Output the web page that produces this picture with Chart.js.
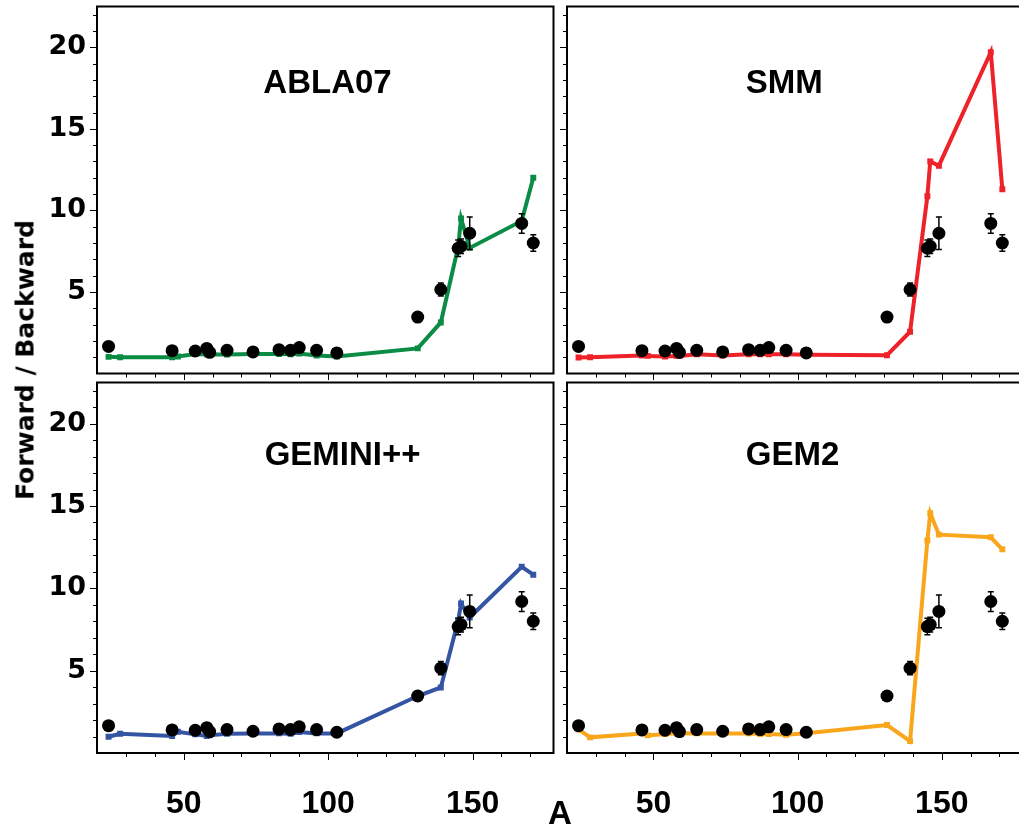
<!DOCTYPE html>
<html>
<head>
<meta charset="utf-8">
<script src="https://cdn.jsdelivr.net/npm/chart.js@4.4.0/dist/chart.umd.min.js"></script>
<style>
  html, body { margin: 0; padding: 0; background: #fff; }
  #wrap { position: relative; width: 1019px; height: 827px; overflow: hidden; background: #fff; }
  canvas { position: absolute; }
  .axis-title { position: absolute; font-weight: bold; color: #000; white-space: nowrap; line-height: 1; }
  #ytitle { left: 25px; top: 360px; font-family: "DejaVu Sans", sans-serif; font-size: 25px;
            transform: translate(-50%, -50%) rotate(-90deg); }
  #xtitle { left: 560px; top: 812px; font-family: "Liberation Sans Narrow", "Liberation Sans", Arial, sans-serif;
            font-size: 33px; transform: translate(-50%, -50%); }
</style>
</head>
<body>
<div id="wrap">
  <canvas id="tl" width="560" height="380" style="left:0;top:0"></canvas>
  <canvas id="tr" width="470" height="380" style="left:559px;top:0"></canvas>
  <canvas id="bl" width="560" height="451" style="left:0;top:376px"></canvas>
  <canvas id="br" width="470" height="451" style="left:559px;top:376px"></canvas>
  <div class="axis-title" id="ytitle">Forward / Backward</div>
  <div class="axis-title" id="xtitle">A</div>
</div>
<script>
// measured forward/backward ratios (black points)
const expA   = [24, 46, 54, 58, 59, 65, 74, 83, 87, 90, 96, 103, 131, 139, 145, 146, 149, 167, 171];
const expVal = [1.66, 1.40, 1.38, 1.54, 1.30, 1.42, 1.32, 1.46, 1.42, 1.59, 1.42, 1.26, 3.46, 5.15, 7.68, 7.80, 8.60, 9.20, 8.00];
const expErr = [0, 0, 0, 0, 0, 0, 0, 0, 0, 0, 0, 0, 0, 0.40, 0.50, 0.45, 1.00, 0.60, 0.50];

// model calculations
const modelA     = [24, 28, 46, 48, 54, 58, 59, 65, 74, 83, 87, 90, 96, 103, 131, 139, 145, 146, 149, 167, 171];
const ablaVals   = [1.02, 1.00, 1.00, 1.04, 1.20, 1.18, 1.16, 1.16, 1.19, 1.19, 1.18, 1.22, 1.10, 1.04, 1.54, 3.13, 7.76, 9.50, 7.70, 9.35, 12.0];
const smmVals    = [0.98, 1.00, 1.10, 1.08, 1.04, 1.08, 1.08, 1.18, 1.10, 1.18, 1.18, 1.18, 1.18, 1.15, 1.12, 2.56, 10.87, 13.0, 12.74, 19.7, 11.3];
const geminiVals = [0.99, 1.17, 1.03, 1.29, 1.13, 1.03, 1.07, 1.17, 1.19, 1.19, 1.17, 1.27, 1.19, 1.19, 3.46, 3.98, 8.03, 9.08, 8.23, 11.31, 10.83];
const gem2Vals   = [1.43, 0.95, 1.19, 1.07, 1.15, 1.20, 1.20, 1.19, 1.19, 1.19, 1.15, 1.15, 1.11, 1.20, 1.70, 0.72, 12.9, 14.56, 13.26, 13.1, 12.37];

// axes
const xTickLabels = [50, 100, 150];
const yTickLabels = [5, 10, 15, 20];
const xMinorTicks = [30, 40, 50, 60, 70, 80, 90, 100, 110, 120, 130, 140, 150, 160, 170];
const yMinorTicks = [1, 2, 3, 4, 5, 6, 7, 8, 9, 10, 11, 12, 13, 14, 15, 16, 17, 18, 19, 20, 21, 22];

// frame, tick marks and the panel name
const panelDecor = {
    id: 'panelDecor',
    afterDraw(chart, args, opts) {
        const { ctx, chartArea: a, scales: { x, y } } = chart;
        ctx.save();
        ctx.strokeStyle = '#000';
        ctx.lineWidth = 1;
        xMinorTicks.forEach(v => {
            const px = Math.round(x.getPixelForValue(v)) + 0.5;
            const len = xTickLabels.includes(v) ? 7 : 4;
            ctx.beginPath();
            ctx.moveTo(px, a.bottom);
            ctx.lineTo(px, a.bottom + len);
            ctx.stroke();
        });
        yMinorTicks.forEach(v => {
            const py = Math.round(y.getPixelForValue(v)) + 0.5;
            const len = yTickLabels.includes(v) ? 7 : 4;
            ctx.beginPath();
            ctx.moveTo(a.left, py);
            ctx.lineTo(a.left - len, py);
            ctx.stroke();
        });
        ctx.lineWidth = 2;
        ctx.strokeRect(a.left, a.top, a.right - a.left, a.bottom - a.top);

        ctx.fillStyle = '#000';
        ctx.font = 'bold 33px "Liberation Sans", Arial, sans-serif';
        ctx.textAlign = 'center';
        ctx.textBaseline = 'middle';
        ctx.fillText(opts.text, a.left + opts.pos * (a.right - a.left), a.top + opts.dy);
        ctx.restore();
    }
};

// vertical error bars on the measured points
const errorBars = {
    id: 'errorBars',
    afterDatasetsDraw(chart) {
        const { ctx, scales: { x, y } } = chart;
        ctx.save();
        ctx.strokeStyle = '#000';
        ctx.lineWidth = 1.5;
        expA.forEach((a, i) => {
            const e = expErr[i];
            if (!e) return;
            const px = x.getPixelForValue(a);
            const top = y.getPixelForValue(expVal[i] + e);
            const bot = y.getPixelForValue(expVal[i] - e);
            ctx.beginPath();
            ctx.moveTo(px, top); ctx.lineTo(px, bot);
            ctx.moveTo(px - 3, top); ctx.lineTo(px + 3, top);
            ctx.moveTo(px - 3, bot); ctx.lineTo(px + 3, bot);
            ctx.stroke();
        });
        ctx.restore();
    }
};

// no extra room for labels that hang past the ends of an axis
function noPadding(s) {
    s.paddingTop = 0; s.paddingBottom = 0;
    s.paddingLeft = 0; s.paddingRight = 0;
}

function makePanel(canvasId, name, modelVals, color, opts) {
    return new Chart(document.getElementById(canvasId), {
        type: 'scatter',
        data: {
            datasets: [{
                label: 'data',
                data: expA.map((a, i) => ({ x: a, y: expVal[i] })),
                pointRadius: 6.5,
                pointBackgroundColor: '#000',
                pointBorderWidth: 0,
                showLine: false
            }, {
                label: name,
                data: modelA.map((a, i) => ({ x: a, y: modelVals[i] })),
                showLine: true,
                borderColor: color,
                borderWidth: 4,
                pointStyle: 'rect',
                pointRadius: 4.2,
                pointBackgroundColor: color,
                pointBorderWidth: 0
            }]
        },
        options: {
            responsive: false,
            animation: false,
            devicePixelRatio: 1,
            layout: { padding: { top: opts.top, right: opts.right, left: 0, bottom: 0 } },
            plugins: {
                legend: { display: false },
                tooltip: { enabled: false },
                panelDecor: { text: name, pos: opts.titlePos, dy: opts.titleDy }
            },
            scales: {
                x: {
                    type: 'linear', min: 20, max: 178,
                    grid: { display: false }, border: { display: false },
                    afterBuildTicks: s => { s.ticks = xTickLabels.map(v => ({ value: v })); },
                    ticks: {
                        display: opts.xLabels, padding: 24, color: '#000',
                        font: { family: '"Liberation Sans Narrow", "Liberation Sans", Arial, sans-serif', size: 32, weight: 'bold' }
                    },
                    afterFit: s => { s.height = opts.xLabels ? 74 : 6; noPadding(s); }
                },
                y: {
                    type: 'linear', min: 0, max: 22.5,
                    grid: { display: false }, border: { display: false },
                    afterBuildTicks: s => { s.ticks = yTickLabels.map(v => ({ value: v })); },
                    ticks: {
                        display: opts.yLabels, padding: 3, color: '#000',
                        font: { family: '"DejaVu Sans", sans-serif', size: 27, weight: 'bold' }
                    },
                    afterFit: s => { s.width = opts.yLabels ? 97 : 8; noPadding(s); }
                }
            }
        },
        plugins: [errorBars, panelDecor]
    });
}

makePanel('tl', 'ABLA07', ablaVals, '#0b8c45',
    { top: 5, right: 2, xLabels: false, yLabels: true, titlePos: 0.505, titleDy: 77 });
makePanel('tr', 'SMM', smmVals, '#ee2229',
    { top: 5, right: 1, xLabels: false, yLabels: false, titlePos: 0.477, titleDy: 77 });
makePanel('bl', 'GEMINI++', geminiVals, '#3455a4',
    { top: 6, right: 2, xLabels: true, yLabels: true, titlePos: 0.538, titleDy: 73 });
makePanel('br', 'GEM2', gem2Vals, '#f9a61c',
    { top: 6, right: 1, xLabels: true, yLabels: false, titlePos: 0.495, titleDy: 73 });
</script>
</body>
</html>
